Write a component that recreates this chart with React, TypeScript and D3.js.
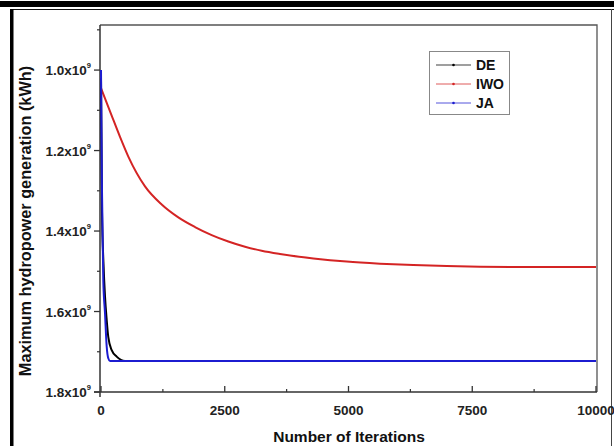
import React, { useEffect, useRef } from 'react';
import * as d3 from 'd3';

// iterations / generation (x10^9 kWh)
const iwoIter = [0, 200, 384, 552, 889, 1226, 1562, 1899, 2236, 2572, 2909, 3246, 3616, 4290, 4963, 5636, 6309, 6983, 7657, 8500, 10000];
const iwoValue = [1.045, 1.108, 1.166, 1.215, 1.289, 1.334, 1.366, 1.39, 1.41, 1.426, 1.439, 1.449, 1.457, 1.468, 1.476, 1.481, 1.4845, 1.487, 1.4886, 1.4894, 1.4894];

const deIter = [0, 20, 50, 81, 115, 147, 216, 317, 485, 10000];
const deValue = [1.02, 1.35, 1.48, 1.563, 1.621, 1.663, 1.696, 1.712, 1.7228, 1.7228];

const jaIter = [0, 20, 46, 81, 115, 147, 182, 10000];
const jaValue = [1.0, 1.3, 1.522, 1.604, 1.687, 1.716, 1.7228, 1.7228];

const xTicks = [0, 2500, 5000, 7500, 10000];
const xMinor = [1250, 3750, 6250, 8750];
const yTicks = [1.0, 1.2, 1.4, 1.6, 1.8];
const yMinor = [0.9, 1.1, 1.3, 1.5, 1.7];

const series = [
  { name: 'DE', color: '#000000', iter: deIter, value: deValue },
  { name: 'IWO', color: '#d42424', iter: iwoIter, value: iwoValue },
  { name: 'JA', color: '#1c1cd0', iter: jaIter, value: jaValue },
];

const W = 614;
const H = 446;
const FONT = '"Liberation Sans", Arial, sans-serif';

const App = () => {
  const ref = useRef<SVGSVGElement>(null);

  useEffect(() => {
    const svg = d3.select(ref.current);
    svg.selectAll('*').remove();

    const left = 100, right = 597, top = 25, bottom = 392;
    const x = d3.scaleLinear().domain([0, 10000]).range([left + 1, right - 1]);
    const y = d3.scaleLinear().domain([1.8, 0.888]).range([bottom, top]);

    svg.append('rect').attr('width', W).attr('height', H).attr('fill', '#fff');

    // outer frame
    svg.append('rect').attr('x', 0).attr('y', 1).attr('width', W).attr('height', 6).attr('fill', '#000');
    svg.append('line').attr('x1', 11).attr('x2', W).attr('y1', 9.5).attr('y2', 9.5).attr('stroke', '#111').attr('stroke-width', 1.2);
    svg.append('rect').attr('x', 10).attr('y', 9).attr('width', 3.5).attr('height', H - 9).attr('fill', '#000');
    svg.append('line').attr('x1', 611.5).attr('x2', 611.5).attr('y1', 9).attr('y2', H).attr('stroke', '#444').attr('stroke-width', 1);

    const g = svg.append('g');

    // plot box top + right
    g.append('path')
      .attr('d', `M${left},${top}H${right}V${bottom}`)
      .attr('fill', 'none').attr('stroke', '#555').attr('stroke-width', 1.3);

    // y axis
    g.append('line').attr('x1', left).attr('x2', left).attr('y1', top).attr('y2', bottom + 5)
      .attr('stroke', '#333').attr('stroke-width', 1.5);
    yTicks.forEach(v => {
      g.append('line').attr('x1', left - 6).attr('x2', left).attr('y1', y(v)).attr('y2', y(v))
        .attr('stroke', '#333').attr('stroke-width', 1.3);
      const t = g.append('text')
        .attr('x', left - 9).attr('y', y(v) + 5)
        .attr('text-anchor', 'end')
        .style('font-family', FONT).style('font-weight', 'bold').style('font-size', '13.5px')
        .attr('fill', '#222');
      t.append('tspan').text(`${v.toFixed(1)}x10`);
      t.append('tspan').attr('dy', -7).style('font-size', '7.5px').text('9');
    });
    yMinor.forEach(v => {
      g.append('line').attr('x1', left - 3).attr('x2', left).attr('y1', y(v)).attr('y2', y(v))
        .attr('stroke', '#333').attr('stroke-width', 1.2);
    });

    // x axis
    g.append('line').attr('x1', left - 6).attr('x2', right).attr('y1', bottom).attr('y2', bottom)
      .attr('stroke', '#333').attr('stroke-width', 1.5);
    xTicks.forEach(v => {
      g.append('line').attr('x1', x(v)).attr('x2', x(v)).attr('y1', bottom - 6).attr('y2', bottom)
        .attr('stroke', '#333').attr('stroke-width', 1.3);
      g.append('text')
        .attr('x', x(v)).attr('y', bottom + 23)
        .attr('text-anchor', 'middle')
        .style('font-family', FONT).style('font-weight', 'bold').style('font-size', '13.5px')
        .attr('fill', '#222')
        .text(v);
    });
    xMinor.forEach(v => {
      g.append('line').attr('x1', x(v)).attr('x2', x(v)).attr('y1', bottom - 3).attr('y2', bottom)
        .attr('stroke', '#333').attr('stroke-width', 1.2);
    });

    // axis titles
    g.append('text')
      .attr('x', 349).attr('y', 442)
      .attr('text-anchor', 'middle')
      .style('font-family', FONT).style('font-weight', 'bold').style('font-size', '15.5px')
      .attr('fill', '#111')
      .text('Number of Iterations');
    g.append('text')
      .attr('transform', 'translate(31,221) rotate(-90)')
      .attr('text-anchor', 'middle')
      .style('font-family', FONT).style('font-weight', 'bold').style('font-size', '16.3px')
      .attr('fill', '#111')
      .text('Maximum hydropower generation (kWh)');

    // lines
    const line = d3.line<[number, number]>()
      .x(d => x(d[0]))
      .y(d => y(d[1]))
      .curve(d3.curveMonotoneX);

    [series[1], series[0], series[2]].forEach(s => {
      const pts = s.iter.map((it, i) => [it, s.value[i]] as [number, number]);
      g.append('path')
        .datum(pts)
        .attr('fill', 'none')
        .attr('stroke', s.color)
        .attr('stroke-width', 2)
        .attr('d', line);
    });

    // legend
    const lg = g.append('g');
    lg.append('rect').attr('x', 429.5).attr('y', 51.5).attr('width', 80).attr('height', 63)
      .attr('fill', '#fff').attr('stroke', '#888').attr('stroke-width', 1);
    const legendY = [65, 84, 103];
    series.forEach((s, i) => {
      lg.append('line').attr('x1', 436).attr('x2', 471).attr('y1', legendY[i]).attr('y2', legendY[i])
        .attr('stroke', s.color).attr('stroke-width', 1).attr('opacity', 0.75);
      lg.append('circle').attr('cx', 453.5).attr('cy', legendY[i]).attr('r', 1.3).attr('fill', s.color);
      lg.append('text')
        .attr('x', 476).attr('y', legendY[i] + 5)
        .style('font-family', FONT).style('font-weight', 'bold').style('font-size', '14px')
        .attr('fill', '#111')
        .text(s.name);
    });
  }, []);

  return (
    <div style={{ position: 'absolute', left: 0, top: 0 }}>
      <svg ref={ref} width={W} height={H} style={{ display: 'block' }}></svg>
    </div>
  );
};

export default App;
